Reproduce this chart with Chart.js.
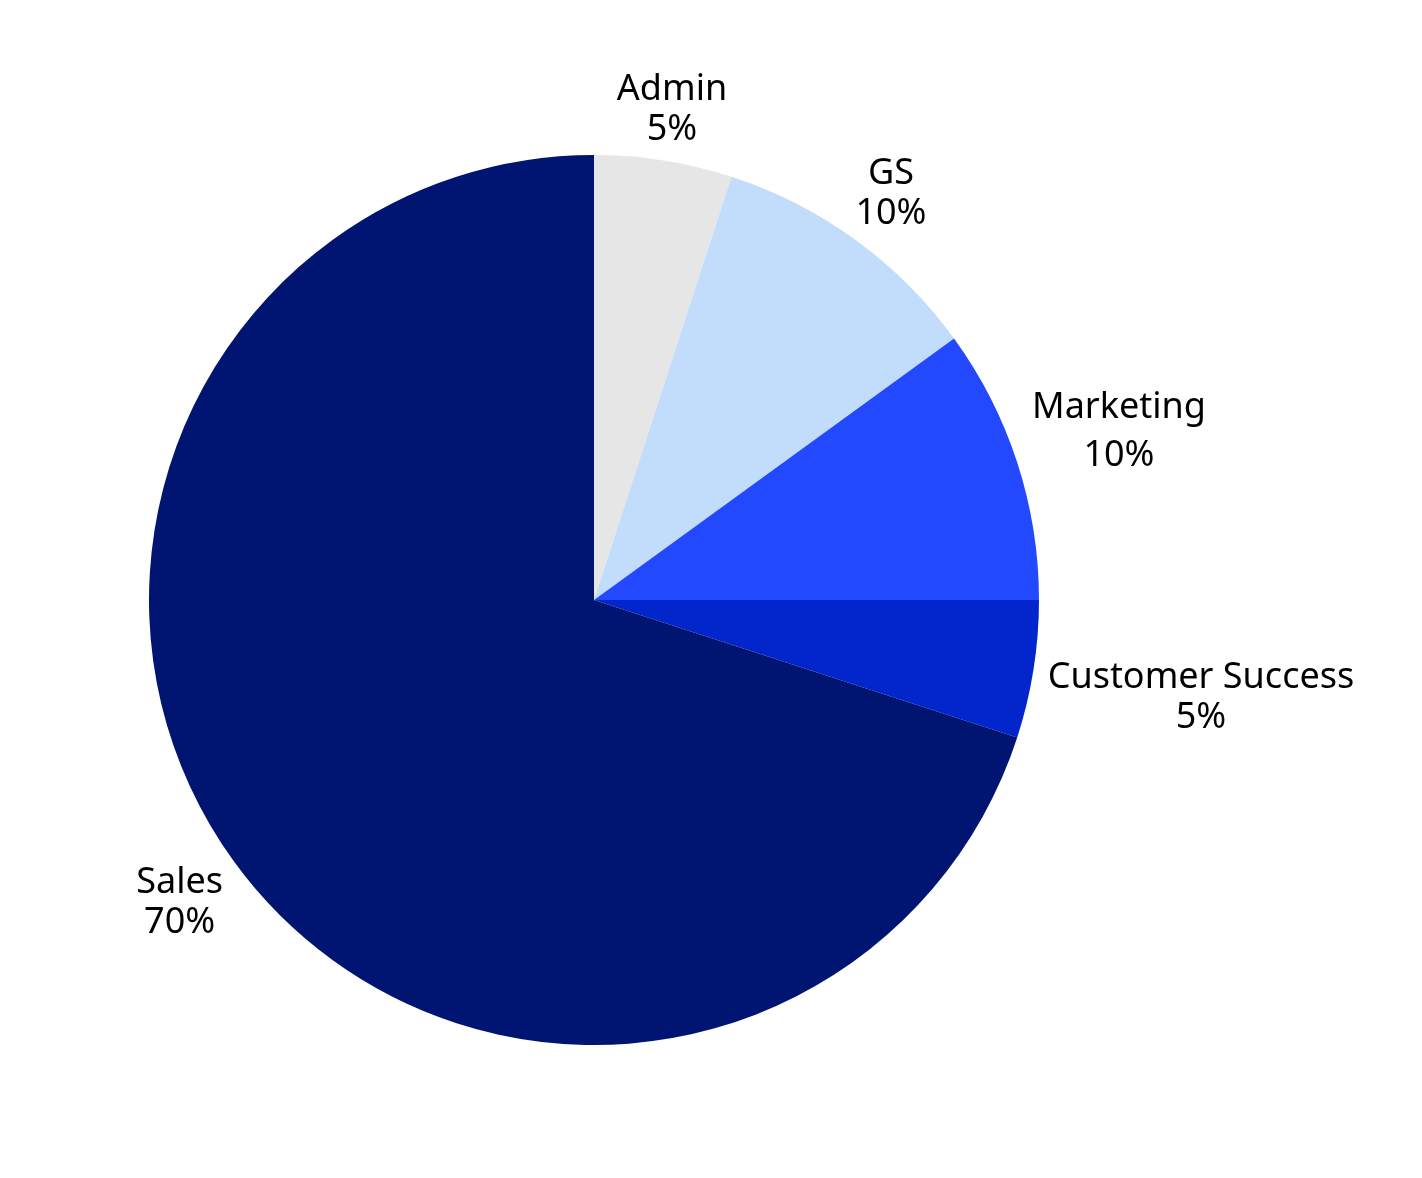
<!DOCTYPE html>
<html>
<head>
<meta charset="utf-8">
<script src="https://cdn.jsdelivr.net/npm/chart.js@4.4.1/dist/chart.umd.min.js"></script>
<style>
  html, body { margin: 0; padding: 0; background: #fff; }
  #wrap { width: 1422px; height: 1178px; position: relative; }
</style>
</head>
<body>
<div id="wrap"><canvas id="pie"></canvas></div>
<script>
const labels = ['Admin', 'GS', 'Marketing', 'Customer Success', 'Sales'];
const shares = [5, 10, 10, 5, 70];
const colors = ['#e6e6e6', '#c2dcfc', '#2349ff', '#0226cc', '#001571'];

// outside labels: name on first line, percent below
const outsideLabels = {
  id: 'outsideLabels',
  afterDatasetsDraw(chart) {
    const ctx = chart.ctx;
    const meta = chart.getDatasetMeta(0);
    ctx.save();
    ctx.font = '36px "Noto Sans", sans-serif';
    ctx.fillStyle = '#000';
    ctx.textAlign = 'center';
    ctx.textBaseline = 'middle';
    meta.data.forEach((arc, i) => {
      const p = arc.getProps(['x', 'y', 'startAngle', 'endAngle', 'outerRadius'], true);
      const mid = (p.startAngle + p.endAngle) / 2;
      const ux = Math.cos(mid), uy = Math.sin(mid);
      const line1 = labels[i];
      const line2 = shares[i] + '%';
      const gap = labels[i] === 'Marketing' ? 48 : 40;
      const w = Math.max(ctx.measureText(line1).width, ctx.measureText(line2).width);
      const h = gap + 25;
      // push the label box out until its near edge clears the rim
      const d = p.outerRadius + 13 + Math.abs(ux) * w / 2 + Math.abs(uy) * h / 2;
      const cx = p.x + ux * d;
      const cy = p.y + uy * d + 2;
      ctx.fillText(line1, cx, cy - gap / 2);
      ctx.fillText(line2, cx, cy + gap / 2);
    });
    ctx.restore();
  }
};

new Chart(document.getElementById('pie'), {
  type: 'pie',
  data: {
    labels: labels,
    datasets: [{
      data: shares,
      backgroundColor: colors,
      borderWidth: 0
    }]
  },
  options: {
    responsive: true,
    maintainAspectRatio: false,
    animation: false,
    layout: { padding: { left: 149, right: 383, top: 155, bottom: 133 } },
    plugins: {
      legend: { display: false },
      tooltip: { enabled: false }
    }
  },
  plugins: [outsideLabels]
});
</script>
</body>
</html>
